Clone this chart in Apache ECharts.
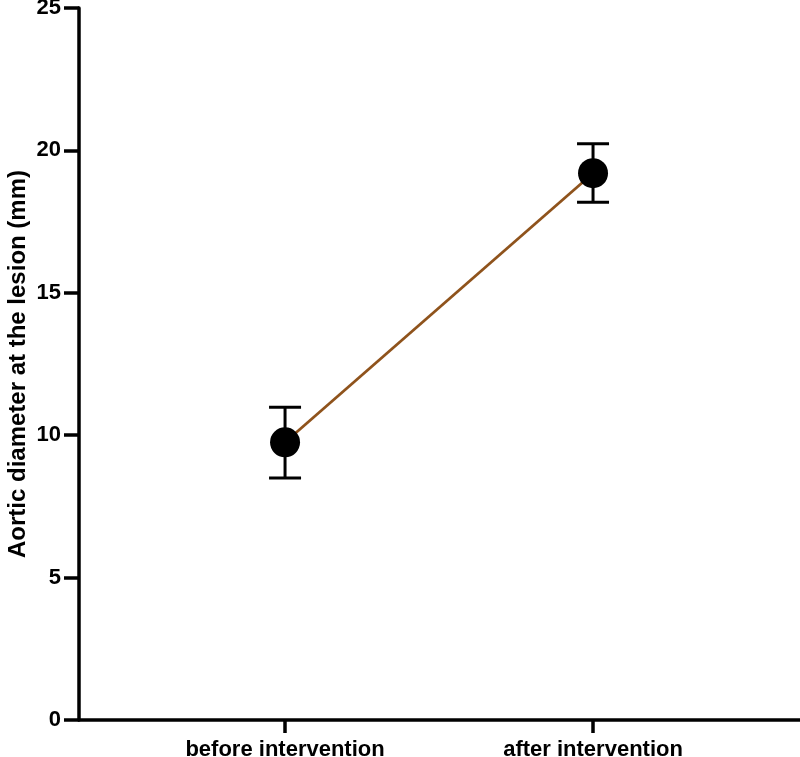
<!DOCTYPE html>
<html>
<head>
<meta charset="utf-8">
<script src="https://cdn.jsdelivr.net/npm/echarts@6/dist/echarts.min.js"></script>
<style>html,body{margin:0;padding:0;background:#fff;}#c{width:800px;height:757px;}</style>
</head>
<body>
<div id="c"></div>
<script>
const categories = ['before intervention', 'after intervention'];
const means = [9.75, 19.2];
const upper = [10.98, 20.23];
const lower = [8.5, 18.18];
const yTicks = [0, 5, 10, 15, 20, 25];

const chart = echarts.init(document.getElementById('c'));
const pts = means.map((m, i) => [i + 1, m]);
const errData = means.map((m, i) => [i + 1, lower[i], upper[i]]);
const font = 'Liberation Sans, Arial, Helvetica, sans-serif';

chart.setOption({
  animation: false,
  grid: { left: 79, right: 0, top: 8, bottom: 37, containLabel: false, outerBoundsMode: 'none' },
  xAxis: {
    type: 'value', min: 0.331, max: 2.672,
    splitLine: { show: false },
    axisLine: { show: true, lineStyle: { color: '#000', width: 3.5 } },
    axisTick: { show: true, length: 13, lineStyle: { color: '#000', width: 3.5 }, customValues: [1, 2] },
    axisLabel: {
      customValues: [1, 2], margin: 19,
      formatter: v => categories[Math.round(v) - 1] || '',
      color: '#000', fontWeight: 'bold', fontSize: 22, fontFamily: font
    }
  },
  yAxis: {
    type: 'value', min: 0, max: 25, interval: 5,
    splitLine: { show: false },
    axisLine: { show: true, lineStyle: { color: '#000', width: 3.5 } },
    axisTick: { show: true, length: 15, lineStyle: { color: '#000', width: 3.5 } },
    axisLabel: { margin: 18, color: '#000', fontWeight: 'bold', fontSize: 22, fontFamily: font,
      formatter: v => yTicks.includes(v) ? String(v) : '' },
    name: 'Aortic diameter at the lesion (mm)',
    nameLocation: 'middle', nameGap: 49, nameMoveOverlap: false,
    nameTextStyle: { color: '#000', fontWeight: 'bold', fontSize: 24, fontFamily: font }
  },
  series: [
    {
      type: 'line', data: pts, symbol: 'none', z: 2,
      lineStyle: { color: '#8F531C', width: 2.8 }
    },
    {
      type: 'custom', z: 3,
      renderItem: function (params, api) {
        const x = api.value(0);
        const lo = api.coord([x, api.value(1)]);
        const hi = api.coord([x, api.value(2)]);
        const hw = 16;
        const style = { stroke: '#000', lineWidth: 3 };
        return {
          type: 'group',
          children: [
            { type: 'line', shape: { x1: lo[0], y1: lo[1], x2: hi[0], y2: hi[1] }, style },
            { type: 'line', shape: { x1: lo[0] - hw, y1: lo[1], x2: lo[0] + hw, y2: lo[1] }, style },
            { type: 'line', shape: { x1: hi[0] - hw, y1: hi[1], x2: hi[0] + hw, y2: hi[1] }, style }
          ]
        };
      },
      encode: { x: 0, y: [1, 2] },
      data: errData
    },
    {
      type: 'scatter', data: pts, symbol: 'circle', symbolSize: 30, z: 4,
      itemStyle: { color: '#000', opacity: 1 }
    }
  ]
});
</script>
</body>
</html>
